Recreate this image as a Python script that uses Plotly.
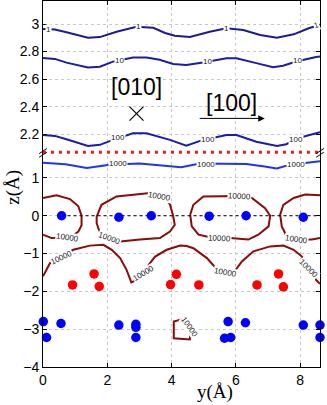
import plotly.graph_objects as go

# ---- upper panel (z above the break), contour levels 1, 10, 100
y_lvl1 = [0, 0.37, 0.73, 1.1, 1.4, 1.77, 2.29, 2.91, 3.43, 3.8, 4.1, 4.57, 5.19, 5.71, 6.23, 6.76, 7.28, 7.8, 8.27, 8.62]
z_lvl1 = [2.964, 2.96, 2.94, 2.915, 2.90, 2.905, 2.944, 2.98, 2.973, 2.935, 2.915, 2.906, 2.944, 2.969, 2.956, 2.92, 2.90, 2.925, 2.969, 2.995]

y_lvl10 = [0, 0.37, 0.73, 1.4, 1.77, 2.18, 2.8, 3.22, 3.63, 4.05, 4.46, 4.98, 5.71, 6.02, 6.64, 7.16, 7.47, 7.88, 8.5, 8.62]
z_lvl10 = [2.754, 2.747, 2.72, 2.684, 2.69, 2.727, 2.757, 2.757, 2.74, 2.71, 2.703, 2.72, 2.751, 2.751, 2.716, 2.687, 2.697, 2.728, 2.76, 2.765]

y_lvl100 = [0, 0.37, 0.73, 1.4, 1.77, 2.18, 2.8, 3.22, 3.95, 4.46, 4.98, 5.71, 6.02, 6.64, 7.28, 7.57, 7.98, 8.5, 8.62]
z_lvl100 = [2.195, 2.188, 2.164, 2.115, 2.123, 2.159, 2.207, 2.207, 2.159, 2.117, 2.159, 2.195, 2.195, 2.146, 2.115, 2.128, 2.175, 2.21, 2.215]

# ---- lower panel, contour levels 1000 and 10000
y_lvl1000 = [0, 0.7, 1.36, 2.08, 3.0, 4.05, 4.3, 4.88, 5.5, 6.33, 6.9, 7.27, 7.69, 8.2, 8.62]
z_lvl1000 = [1.40, 1.36, 1.265, 1.35, 1.38, 1.31, 1.28, 1.38, 1.38, 1.37, 1.30, 1.25, 1.35, 1.40, 1.44]

# 10000 contours (None separates pieces)
y_lvl10k = [0, 0.42, 0.84, 1.1, 1.2, 1.2, 1.1, 0.89, 0.5, 0.27, 0, None,
            1.67, 1.82, 2.29, 3.02, 3.33, 3.8, 3.95, 4.05, 4.1, 3.95, 3.64, 3.02, 2.4, 2.08, 1.77, 1.72, 1.67, 1.67, None,
            4.58, 4.68, 4.99, 5.72, 6.13, 6.5, 6.91, 7.07, 7.02, 6.7, 6.39, 5.82, 5.2, 4.84, 4.63, 4.58, None,
            8.62, 8.16, 7.8, 7.48, 7.38, 7.43, 7.59, 7.9, 8.37, 8.62, None,
            0, 0.22, 0.58, 0.94, 1.46, 1.88, 2.14, 2.4, 2.6, 2.75, 2.85, 3.12, 3.33, 3.49, 3.85, 4.27, 4.47, 4.68,
            5.1, 5.3, 5.5, 5.7, 5.98, 6.19, 6.55, 7.07, 7.48, 7.8, 8.06, 8.3, 8.5, 8.62, None,
            4.31, 4.07, 4.07, 4.57, 4.6, 4.31]
z_lvl10k = [0.47, 0.54, 0.44, 0.25, 0.0, -0.25, -0.42, -0.55, -0.58, -0.59, -0.5, None,
            -0.02, 0.29, 0.51, 0.56, 0.6, 0.47, 0.3, 0.0, -0.24, -0.42, -0.59, -0.63, -0.68, -0.58, -0.42, -0.33, -0.19, -0.02, None,
            0.03, 0.29, 0.51, 0.51, 0.52, 0.47, 0.2, 0.0, -0.28, -0.5, -0.63, -0.59, -0.57, -0.5, -0.28, 0.03, None,
            0.54, 0.56, 0.47, 0.29, 0.03, -0.28, -0.55, -0.63, -0.63, -0.59, None,
            -1.6, -1.25, -1.08, -0.9, -0.79, -0.77, -0.9, -1.12, -1.43, -1.76, -1.72, -1.5, -1.25, -1.08, -0.9, -0.79, -0.8, -0.86,
            -1.12, -1.3, -1.5, -1.58, -1.45, -1.21, -0.94, -0.81, -0.79, -0.9, -1.08, -1.4, -1.7, -1.8, None,
            -2.74, -2.80, -3.24, -3.27, -3.0, -2.74]

# contour labels
lab_text = ["1", "1", "1", "1", "10", "10", "10", "100", "100", "100"]
lab_y = [0.17, 2.96, 5.7, 8.5, 2.39, 5.13, 7.93, 2.34, 5.13, 7.88]
lab_z = [2.96, 2.98, 2.967, 2.99, 2.735, 2.728, 2.735, 2.175, 2.165, 2.165]
lab_ang = [0, 0, 0, -20, 0, 0, 0, 0, 0, 0]

lab2_text = ["1000", "1000", "1000"] + ["10000"] * 11
lab2_y = [2.34, 5.08, 7.88, 0.75, 2.08, 3.63, 6.13, 5.5, 7.9, 0.58, 3.12, 5.67, 8.26, 4.57]
lab2_z = [1.37, 1.36, 1.36, -0.57, -0.6, 0.52, 0.52, -0.6, -0.62, -1.1, -1.52, -1.5, -1.4, -2.95]
lab2_ang = [0, 0, 0, 8, 20, 10, 3, 3, 8, -25, -30, 10, 45, 55]

# atoms
blue_mid_y = [0.58, 2.36, 3.37, 5.17, 6.32, 8.1]
blue_mid_z = [0.0, -0.04, 0.0, -0.01, 0.0, -0.04]
red_y = [0.92, 1.59, 1.75, 3.97, 4.15, 4.85, 6.66, 7.33, 7.48]
red_z = [-1.83, -1.54, -1.87, -1.82, -1.55, -1.83, -1.83, -1.54, -1.88]
blue_low_y = [0.01, 0.11, 0.56, 2.36, 2.89, 2.89, 2.89, 5.76, 6.3, 5.65, 5.84, 8.1, 8.62, 8.62]
blue_low_z = [-2.80, -3.22, -2.85, -2.89, -2.87, -2.95, -3.22, -2.80, -2.83, -3.24, -3.22, -2.89, -2.89, -3.22]

surface_z = 1.68
zero_y = [0.58, 8.62]

fig = go.Figure()

top_lines = [(y_lvl1, z_lvl1, "#1b1b9a"), (y_lvl10, z_lvl10, "#1b1ba6"), (y_lvl100, z_lvl100, "#1a1ab4")]
for yy, zz, col in top_lines:
    fig.add_trace(go.Scatter(x=yy, y=zz, mode="lines", line=dict(color=col, width=2),
                             xaxis="x2", yaxis="y2", hoverinfo="skip"))

fig.add_trace(go.Scatter(x=[0, 8.62], y=[surface_z, surface_z], mode="lines",
                         line=dict(color="#ff1a1a", width=3, dash="3px,5px")))
fig.add_trace(go.Scatter(x=y_lvl1000, y=z_lvl1000, mode="lines", line=dict(color="#1f35f0", width=2)))
fig.add_trace(go.Scatter(x=y_lvl10k, y=z_lvl10k, mode="lines", line=dict(color="#8b0a0a", width=2),
                         connectgaps=False))
fig.add_trace(go.Scatter(x=zero_y, y=[0, 0], mode="lines", line=dict(color="black", width=1, dash="dot")))

for yy, zz, col in [(blue_mid_y, blue_mid_z, "#0000ff"), (blue_low_y, blue_low_z, "#0000ff"), (red_y, red_z, "#ff0000")]:
    fig.add_trace(go.Scatter(x=yy, y=zz, mode="markers", cliponaxis=False,
                             marker=dict(color=col, size=9.5)))

# [010] cross marker
fig.add_trace(go.Scatter(x=[2.91], y=[2.35], mode="markers", xaxis="x2", yaxis="y2",
                         marker=dict(symbol="x-thin", size=14, line=dict(color="black", width=1.2))))

anns = []
for t, yy, zz, a in zip(lab_text, lab_y, lab_z, lab_ang):
    anns.append(dict(text=t, x=yy, y=zz, xref="x2", yref="y2", showarrow=False, textangle=a,
                     bgcolor="white", borderpad=0, font=dict(size=8, color="#222", family="Liberation Sans")))
for t, yy, zz, a in zip(lab2_text, lab2_y, lab2_z, lab2_ang):
    anns.append(dict(text=t, x=yy, y=zz, xref="x", yref="y", showarrow=False, textangle=a,
                     bgcolor="white", borderpad=0, font=dict(size=8, color="#222", family="Liberation Sans")))

anns.append(dict(text="[010]", x=2.91, y=2.54, xref="x2", yref="y2", showarrow=False,
                 font=dict(size=23, color="black", family="Liberation Sans")))
anns.append(dict(text="[100]", x=5.86, y=2.43, xref="x2", yref="y2", showarrow=False,
                 font=dict(size=23, color="black", family="Liberation Sans")))
anns.append(dict(text="", x=6.9, y=2.315, ax=4.83, ay=2.315, xref="x2", yref="y2", axref="x2", ayref="y2",
                 showarrow=True, arrowhead=2, arrowsize=1.3, arrowwidth=1, arrowcolor="black"))
anns.append(dict(text="z(Å)", x=-0.108, y=0.49, xref="paper", yref="paper", showarrow=False, textangle=-90,
                 xanchor="center", yanchor="middle",
                 font=dict(size=19, color="black", family="Liberation Serif")))
anns.append(dict(text="y(Å)", x=0.62, y=-0.068, xref="paper", yref="paper", showarrow=False,
                 xanchor="center", yanchor="middle",
                 font=dict(size=19, color="black", family="Liberation Serif")))

# axis break marks
shapes = []
for xe in [0, 1]:
    for dy in [-0.005, 0.005]:
        shapes.append(dict(type="line", xref="paper", yref="paper",
                           x0=xe - 0.014, y0=0.585 + dy - 0.007, x1=xe + 0.014, y1=0.585 + dy + 0.007,
                           line=dict(color="black", width=1)))

axis_common = dict(showline=True, linecolor="black", linewidth=1, ticks="inside", ticklen=4,
                   tickcolor="black", showgrid=True, gridcolor="#c8c8c8", griddash="dot", gridwidth=1,
                   zeroline=False, tickfont=dict(size=14, color="black", family="Liberation Sans"))

fig.update_layout(
    width=327, height=405,
    margin=dict(l=43, r=7, t=1, b=38),
    paper_bgcolor="white", plot_bgcolor="white",
    showlegend=False,
    annotations=anns,
    shapes=shapes,
    xaxis=dict(axis_common, range=[0, 8.62], tickvals=[0, 2, 4, 6, 8], domain=[0, 1], anchor="y"),
    xaxis2=dict(axis_common, range=[0, 8.62], tickvals=[0, 2, 4, 6, 8], domain=[0, 1], anchor="y2",
                side="top", showticklabels=False, matches="x"),
    yaxis=dict(axis_common, range=[-4, 1.74], tickvals=[-4, -3, -2, -1, 0, 1], domain=[0, 0.593],
               mirror="ticks", anchor="x"),
    yaxis2=dict(axis_common, range=[2.086, 3.167], tickvals=[2.2, 2.4, 2.6, 2.8, 3.0],
                ticktext=["2.2", "2.4", "2.6", "2.8", "3"], domain=[0.593, 1], mirror="ticks", anchor="x2"),
)

fig.write_html("out.html", config={"displayModeBar": False},
               post_script="document.body.style.margin='0';")
